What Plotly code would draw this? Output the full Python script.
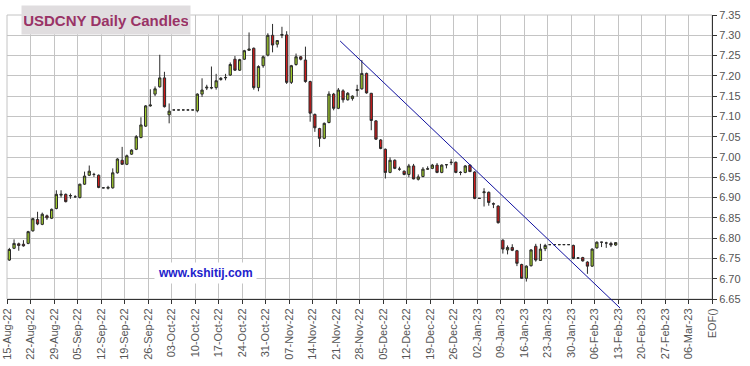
import pandas as pd
import plotly.graph_objects as go

# ---------------- data ----------------
dates = pd.bdate_range("2022-08-15", "2023-02-10")

open_ = [
    6.746, 6.775, 6.786, 6.785, 6.787,
    6.818, 6.846, 6.834, 6.855, 6.849,
    6.873, 6.906, 6.908, 6.904, 6.902,
    6.900, 6.933, 6.955, 6.957, 6.955,
    6.924, 6.923, 6.924, 6.961, 6.992,
    6.982, 7.007, 7.019, 7.048, 7.076,
    7.126, 7.155, 7.173, 7.195, 7.104,
    7.116, 7.116, 7.116, 7.116, 7.116,
    7.114, 7.155, 7.170, 7.170, 7.171,
    7.191, 7.195, 7.202, 7.241, 7.214,
    7.241, 7.263, 7.268, 7.171, 7.225,
    7.251, 7.300, 7.278, 7.300, 7.301,
    7.184, 7.228, 7.247, 7.239, 7.186,
    7.105, 7.070, 7.046, 7.085, 7.155,
    7.120, 7.163, 7.141, 7.144, 7.164,
    7.168, 7.206, 7.157, 7.089, 7.042,
    7.019, 6.962, 6.992, 6.970, 6.965,
    6.957, 6.978, 6.945, 6.952, 6.970,
    6.972, 6.980, 6.962, 6.981, 6.986,
    6.987, 6.962, 6.962, 6.980, 6.963,
    6.898, 6.912, 6.913, 6.885, 6.879,
    6.795, 6.771, 6.777, 6.769, 6.735,
    6.701, 6.732, 6.780, 6.745, 6.774,
    6.784, 6.784, 6.784, 6.784, 6.784,
    6.782, 6.751, 6.752, 6.741, 6.731,
    6.776, 6.790, 6.788, 6.787, 6.783,
]
high = [
    6.776, 6.797, 6.789, 6.795, 6.818,
    6.850, 6.865, 6.863, 6.858, 6.873,
    6.918, 6.918, 6.910, 6.910, 6.906,
    6.934, 6.964, 6.979, 6.961, 6.957,
    6.925, 6.929, 6.972, 6.997, 7.025,
    7.006, 7.019, 7.054, 7.098, 7.128,
    7.167, 7.174, 7.252, 7.210, 7.132,
    7.116, 7.116, 7.116, 7.116, 7.116,
    7.157, 7.194, 7.178, 7.223, 7.205,
    7.197, 7.205, 7.233, 7.249, 7.242,
    7.264, 7.307, 7.270, 7.226, 7.250,
    7.305, 7.328, 7.288, 7.321, 7.310,
    7.227, 7.255, 7.249, 7.272, 7.188,
    7.107, 7.072, 7.085, 7.162, 7.158,
    7.170, 7.167, 7.160, 7.152, 7.178,
    7.239, 7.208, 7.158, 7.091, 7.044,
    7.021, 6.999, 6.994, 6.976, 6.967,
    6.983, 6.983, 6.957, 6.975, 6.977,
    6.983, 6.985, 6.982, 6.982, 6.995,
    6.989, 6.965, 6.980, 6.982, 6.965,
    6.898, 6.923, 6.915, 6.888, 6.881,
    6.797, 6.782, 6.785, 6.771, 6.737,
    6.733, 6.773, 6.786, 6.786, 6.786,
    6.784, 6.784, 6.784, 6.784, 6.784,
    6.784, 6.753, 6.754, 6.743, 6.775,
    6.792, 6.791, 6.791, 6.791, 6.790,
]
low = [
    6.744, 6.773, 6.769, 6.779, 6.785,
    6.816, 6.832, 6.832, 6.845, 6.847,
    6.871, 6.900, 6.888, 6.897, 6.899,
    6.898, 6.931, 6.953, 6.951, 6.923,
    6.923, 6.920, 6.922, 6.959, 6.981,
    6.980, 7.005, 7.017, 7.046, 7.074,
    7.124, 7.150, 7.171, 7.122, 7.083,
    7.116, 7.116, 7.116, 7.116, 7.116,
    7.110, 7.148, 7.165, 7.167, 7.166,
    7.188, 7.189, 7.200, 7.212, 7.212,
    7.239, 7.262, 7.166, 7.162, 7.220,
    7.248, 7.258, 7.270, 7.293, 7.180,
    7.180, 7.225, 7.238, 7.183, 7.087,
    7.062, 7.025, 7.044, 7.083, 7.115,
    7.118, 7.134, 7.139, 7.139, 7.149,
    7.166, 7.156, 7.066, 7.042, 7.019,
    6.947, 6.960, 6.970, 6.966, 6.955,
    6.950, 6.945, 6.942, 6.950, 6.968,
    6.970, 6.960, 6.960, 6.972, 6.980,
    6.960, 6.955, 6.960, 6.963, 6.896,
    6.898, 6.878, 6.880, 6.874, 6.836,
    6.762, 6.760, 6.768, 6.731, 6.700,
    6.693, 6.730, 6.742, 6.744, 6.768,
    6.784, 6.784, 6.784, 6.784, 6.784,
    6.748, 6.749, 6.742, 6.712, 6.729,
    6.774, 6.778, 6.776, 6.778, 6.781,
]
close = [
    6.772, 6.787, 6.782, 6.781, 6.816,
    6.848, 6.835, 6.859, 6.850, 6.871,
    6.908, 6.908, 6.890, 6.905, 6.902,
    6.933, 6.953, 6.965, 6.957, 6.925,
    6.924, 6.925, 6.961, 6.995, 6.982,
    7.003, 7.017, 7.050, 7.079, 7.126,
    7.128, 7.168, 7.195, 7.124, 7.113,
    7.116, 7.116, 7.116, 7.116, 7.116,
    7.155, 7.165, 7.172, 7.171, 7.188,
    7.194, 7.196, 7.228, 7.214, 7.240,
    7.262, 7.266, 7.171, 7.223, 7.247,
    7.300, 7.276, 7.287, 7.302, 7.184,
    7.225, 7.247, 7.241, 7.186, 7.108,
    7.072, 7.046, 7.083, 7.155, 7.120,
    7.165, 7.141, 7.157, 7.150, 7.166,
    7.206, 7.158, 7.090, 7.044, 7.021,
    6.962, 6.992, 6.972, 6.970, 6.957,
    6.978, 6.946, 6.951, 6.970, 6.971,
    6.980, 6.962, 6.980, 6.981, 6.987,
    6.962, 6.962, 6.978, 6.964, 6.898,
    6.898, 6.914, 6.888, 6.884, 6.838,
    6.773, 6.777, 6.770, 6.738, 6.701,
    6.731, 6.771, 6.746, 6.773, 6.782,
    6.784, 6.784, 6.784, 6.784, 6.784,
    6.750, 6.751, 6.744, 6.731, 6.773,
    6.790, 6.790, 6.788, 6.783, 6.789,
]

# trend line drawn on the chart (date, price) endpoints
trend_dates = ["2022-11-21 21:00", "2023-02-13 10:00"]
trend_prices = [7.286, 6.628]

# axis ticks
x_tick_dates = pd.date_range("2022-08-15", "2023-03-13", freq="7D")
x_tick_labels = [d.strftime("%d-%b-%y") for d in x_tick_dates[:-1]] + ["EOF()"]
y_ticks = [round(6.65 + 0.05 * i, 2) for i in range(15)]
y_tick_labels = [f"{v:.2f}" for v in y_ticks]

Y_MIN, Y_MAX = 6.65, 7.35

# ---------------- figure ----------------
FONT = "Arial, Liberation Sans, sans-serif"
x_pos = dates + pd.Timedelta(hours=12)  # candles centred within each trading day

fig = go.Figure()
fig.add_trace(go.Candlestick(
    x=x_pos, open=open_, high=high, low=low, close=close,
    increasing=dict(fillcolor="#9dc82b", line=dict(color="#2b2b2b", width=1)),
    decreasing=dict(fillcolor="#cc1a1a", line=dict(color="#2b2b2b", width=1)),
    whiskerwidth=0, showlegend=False, hoverinfo="skip",
))

def dom(v):
    return (v - Y_MIN) / (Y_MAX - Y_MIN)

fig.add_shape(type="line", xref="x", yref="y domain",
              x0=trend_dates[0], y0=dom(trend_prices[0]),
              x1=trend_dates[1], y1=dom(trend_prices[1]),
              line=dict(color="#1010a0", width=1), layer="above")

# light frame on left / top
fig.add_shape(type="rect", xref="paper", yref="paper", x0=0, x1=1, y0=0, y1=1,
              line=dict(color="#c4c4c4", width=1), layer="below")

fig.add_annotation(text="<b>USDCNY Daily Candles</b>", xref="paper", yref="paper",
                   x=0.0199, y=1.0352, xanchor="left", yanchor="top",
                   showarrow=False, bgcolor="#e0dddf", borderpad=2,
                   width=164, height=24,
                   font=dict(family=FONT, size=15, color="#993366"))

fig.add_annotation(text="<b>www.kshitij.com</b>", xref="paper", yref="paper",
                   x=0.281, y=0.093, xanchor="center", yanchor="middle",
                   showarrow=False, bgcolor="white", borderpad=3,
                   font=dict(family=FONT, size=12, color="#2222cc"))

fig.update_layout(
    width=750, height=366,
    margin=dict(l=7, r=38, t=15, b=67, autoexpand=False),
    paper_bgcolor="white", plot_bgcolor="white",
    font=dict(family=FONT, size=11, color="#555555"),
    xaxis=dict(
        type="date",
        rangebreaks=[dict(bounds=["sat", "mon"])],
        range=[x_tick_dates[0], x_tick_dates[-1]],
        rangeslider=dict(visible=False),
        tickmode="array", tickvals=list(x_tick_dates), ticktext=x_tick_labels,
        tickangle=-90, ticks="outside", ticklen=4, tickcolor="#333333",
        showgrid=True, gridcolor="#c4c4c4", gridwidth=1,
        showline=True, linecolor="#333333", linewidth=1,
        tickfont=dict(family=FONT, size=11, color="#555555"),
        zeroline=False, automargin=False,
    ),
    yaxis=dict(
        side="right", range=[Y_MIN, Y_MAX],
        tickmode="array", tickvals=y_ticks, ticktext=y_tick_labels,
        ticks="outside", ticklen=4, tickcolor="#333333",
        showgrid=True, gridcolor="#c4c4c4", gridwidth=1,
        showline=True, linecolor="#333333", linewidth=1,
        tickfont=dict(family=FONT, size=11, color="#555555"),
        zeroline=False, automargin=False,
    ),
)

fig.write_html("out.html", config={"displayModeBar": False},
               post_script="document.body.style.margin='0';")
